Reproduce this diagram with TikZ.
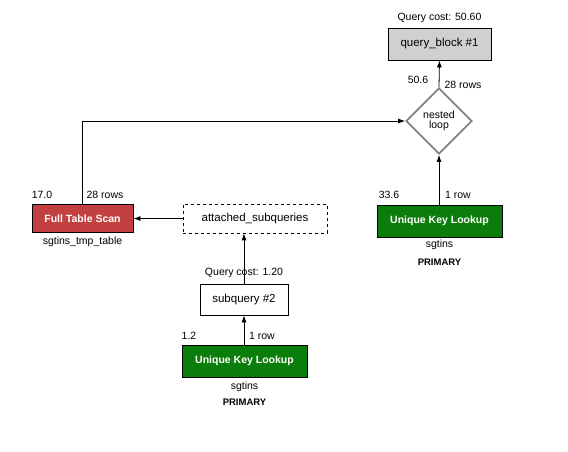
\documentclass[tikz,border=0pt]{standalone}
\usepackage{fontspec}
\setmainfont{Liberation Sans}
\usetikzlibrary{shapes.geometric,arrows.meta}
\definecolor{qgray}{RGB}{208,208,208}
\definecolor{qred}{RGB}{194,64,64}
\definecolor{qgreen}{RGB}{10,125,10}
\definecolor{dgray}{RGB}{130,130,130}
\begin{document}
\begin{tikzpicture}[x=1pt,y=-1pt,
  lbl/.style={font=\fontsize{10.5}{12}\selectfont,inner sep=0pt},
  opbox/.style={draw=black,line width=0.8pt,minimum height=#1,inner sep=0pt,font=\fontsize{11.5}{13}\selectfont},
  tbox/.style={draw=black,line width=0.8pt,minimum width=125,minimum height=32,inner sep=0pt,text=white,font=\bfseries\fontsize{10.5}{12}\selectfont},
  arr/.style={-{Latex[length=7pt,width=5pt]},line width=0.8pt}]
\useasboundingbox (0,0) rectangle (568,451);
% query block
\node[opbox=32,fill=qgray,minimum width=103] (qb) at (439.5,44) {query\_block \#1};
\node[lbl] (qbc) at (439.5,18) {Query cost: 50.60};
% nested loop
\node[diamond,draw=dgray,line width=1.8pt,minimum width=66,minimum height=66,inner sep=0pt,align=center,font=\fontsize{10.5}{10.5}\selectfont] (nl) at (439,121) {nested\\loop};
\draw[arr] (nl.north) -- (qb.south);
\node[lbl] (l506) at (418,80) {50.6};
\node[lbl] (l28a) at (463,85) {28 rows};
% full table scan
\node[tbox,fill=qred,minimum width=101,minimum height=28] (fts) at (82.5,218.5) {Full Table Scan};
\node[lbl] (ftsn) at (82.5,242) {sgtins\_tmp\_table};
\node[lbl] (l17) at (42,195) {17.0};
\node[lbl] (l28b) at (105,195) {28 rows};
\coordinate (c1) at (82.5,121);
\draw[arr] (fts.north) -- (c1) -- (nl.west);
% attached subqueries
\node[opbox=29,dashed,line width=0.6pt,minimum width=144] (att) at (255,218.5) {attached\_subqueries};
\draw[arr] (att.west) -- (fts.east);
% subquery 2
\node[opbox=31,minimum width=88] (sq) at (244,299.5) {subquery \#2};
\node[lbl] (sqc) at (244,273) {Query cost: 1.20};
\draw[arr] (sq.north) -- (att.south -| sq.north);
% unique key lookup bottom
\node[tbox,fill=qgreen] (uk1) at (244.5,361) {Unique Key Lookup};
\node[lbl] (uk1n) at (244.5,387) {sgtins};
\node[lbl,font=\bfseries\fontsize{9.5}{11}\selectfont] (uk1p) at (244.5,402) {PRIMARY};
\node[lbl] (l12) at (189,336) {1.2};
\node[lbl] (l1a) at (262,336) {1 row};
\draw[arr] (uk1.north -| sq.south) -- (sq.south);
% unique key lookup right
\node[tbox,fill=qgreen] (uk2) at (439.5,221) {Unique Key Lookup};
\node[lbl] (uk2n) at (439.5,245) {sgtins};
\node[lbl,font=\bfseries\fontsize{9.5}{11}\selectfont] (uk2p) at (439.5,262) {PRIMARY};
\node[lbl] (l336) at (389,195) {33.6};
\node[lbl] (l1b) at (458,195) {1 row};
\draw[arr] (uk2.north -| nl.south) -- (nl.south);
\end{tikzpicture}
\end{document}
